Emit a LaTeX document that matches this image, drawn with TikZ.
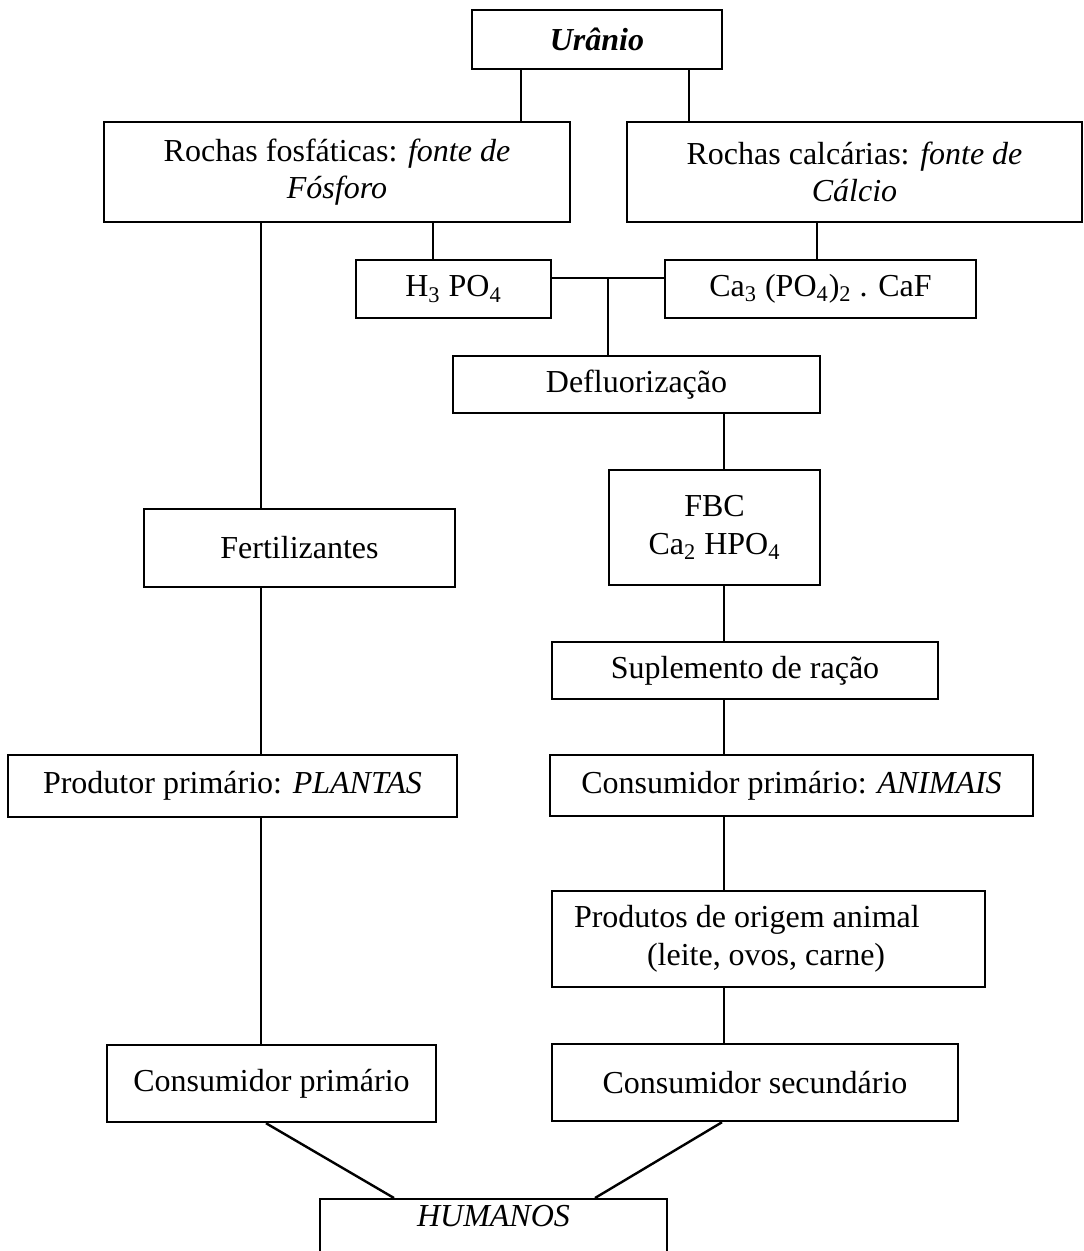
\documentclass[tikz,border=0pt]{standalone}
\usepackage{fontspec}
\setmainfont{Liberation Serif}
\usepackage{tikz}
\usetikzlibrary{calc}

\begin{document}
\begin{tikzpicture}[x=0.5pt,y=-0.5pt,line width=1.2pt,
 caixa/.style={draw,align=center,inner sep=2pt,font=\fontsize{16}{18.8}\selectfont}]
 \useasboundingbox (0,0) rectangle (1083,1251);
 \node[caixa,minimum width=125pt,minimum height=29.5pt] (uran) at (597,39.5) {\textbf{\textit{Urânio}}};
 \node[caixa,minimum width=233pt,minimum height=50pt] (fosf) at (337,172) {Rochas fosfáticas: \textit{fonte de}\\\textit{Fósforo}};
 \node[caixa,minimum width=227.5pt,minimum height=50pt] (calc) at (854.5,172) {Rochas calcárias: \textit{fonte de}\\\textit{Cálcio}};
 \node[caixa,minimum width=97.5pt,minimum height=29pt] (h3) at (453.5,289) {H\textsubscript{3} PO\textsubscript{4}};
 \node[caixa,minimum width=155.5pt,minimum height=29pt] (ca3) at (820.5,289) {Ca\textsubscript{3} (PO\textsubscript{4})\textsubscript{2} . CaF};
 \node[caixa,minimum width=183.5pt,minimum height=28.5pt] (deflu) at (636.5,384.5) {Defluorização};
 \node[caixa,minimum width=105.5pt,minimum height=57.5pt] (fbc) at (714.5,527.5) {FBC\\Ca\textsubscript{2} HPO\textsubscript{4}};
 \node[caixa,minimum width=155.5pt,minimum height=39pt] (fert) at (299.5,548) {Fertilizantes};
 \node[caixa,minimum width=193pt,minimum height=28.5pt] (supl) at (745,670.5) {Suplemento de ração};
 \node[caixa,minimum width=224.5pt,minimum height=31pt] (prod) at (232.5,786) {Produtor primário: \textit{PLANTAS}};
 \node[caixa,minimum width=241.5pt,minimum height=30.5pt] (anim) at (791.5,785.5) {Consumidor primário: \textit{ANIMAIS}};
 \node[caixa,align=flush left,text width=194.5pt,inner xsep=11pt,minimum height=48pt] (orig) at (768.5,939) {Produtos de origem animal\\\hspace*{36.5pt}(leite, ovos, carne)};
 \node[caixa,minimum width=164.5pt,minimum height=38.5pt] (cons1) at (271.5,1083.5) {Consumidor primário};
 \node[caixa,minimum width=203pt,minimum height=38.5pt] (cons2) at (755,1082.5) {Consumidor secundário};
 \node[caixa,anchor=north,minimum width=173.5pt,text height=11.5pt,text depth=15.5pt] (hum) at (493.5,1198) {\textit{HUMANOS}};
 \coordinate (c1) at (521,0);
 \coordinate (c2) at (689,0);
 \coordinate (c3) at (433,0);
 \coordinate (c4) at (817,0);
 \coordinate (c5) at (261,0);
 \coordinate (c6) at (724,0);
 \coordinate (jun) at (608,278);
 \coordinate (d1) at (266,0);
 \coordinate (d2) at (394,0);
 \coordinate (d3) at (722,0);
 \coordinate (d4) at (595,0);
 \draw (uran.south -| c1) -- (fosf.north -| c1);
 \draw (uran.south -| c2) -- (calc.north -| c2);
 \draw (fosf.south -| c3) -- (h3.north -| c3);
 \draw (calc.south -| c4) -- (ca3.north -| c4);
 \draw (h3.east |- jun) -- (ca3.west |- jun);
 \draw (jun) -- (deflu.north -| jun);
 \draw (fosf.south -| c5) -- (fert.north -| c5);
 \draw (fert.south -| c5) -- (prod.north -| c5);
 \draw (prod.south -| c5) -- (cons1.north -| c5);
 \draw (deflu.south -| c6) -- (fbc.north -| c6);
 \draw (fbc.south -| c6) -- (supl.north -| c6);
 \draw (supl.south -| c6) -- (anim.north -| c6);
 \draw (anim.south -| c6) -- (orig.north -| c6);
 \draw (orig.south -| c6) -- (cons2.north -| c6);
 \draw (cons1.south -| d1) -- (hum.north -| d2);
 \draw (cons2.south -| d3) -- (hum.north -| d4);
\end{tikzpicture}
\end{document}
